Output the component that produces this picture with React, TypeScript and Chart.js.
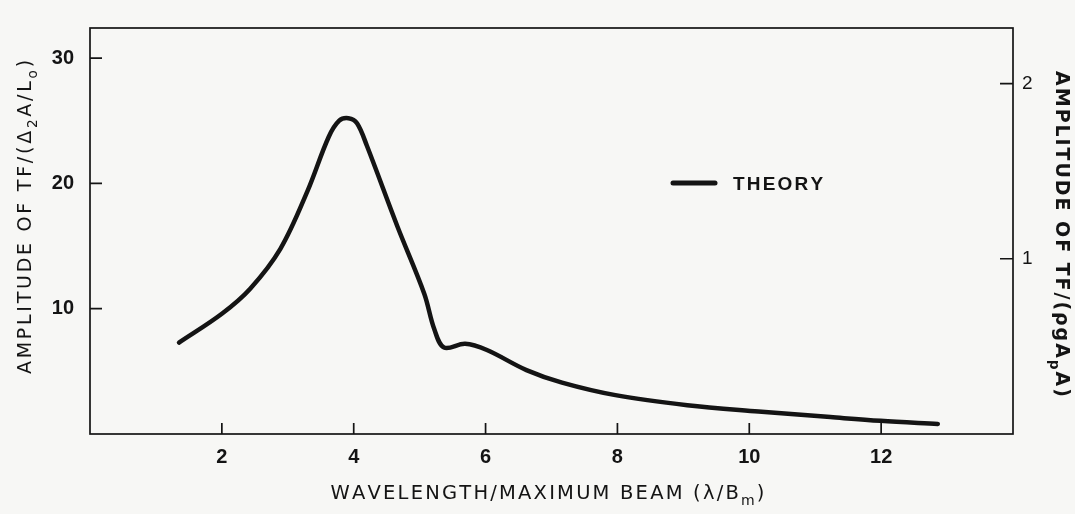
import React, { useEffect, useRef } from "react";
import { Chart, registerables } from "chart.js";

Chart.register(...registerables);

// ---- data ----
const wavelength = [
  1.35, 2.0, 2.43, 2.89, 3.3, 3.62, 3.78, 3.92, 4.05, 4.2, 4.66, 5.07, 5.22,
  5.37, 5.69, 6.02, 6.62, 7.16, 7.97, 9.06, 10.14, 11.23, 11.99, 12.86,
];
const amplitude = [
  7.3, 9.6, 11.6, 14.8, 19.4, 23.7, 25.0, 25.2, 24.8, 23.0, 16.6, 11.2, 8.4,
  6.9, 7.2, 6.7, 5.1, 4.1, 3.1, 2.3, 1.8, 1.35, 1.05, 0.8,
];
const xTicks = [2, 4, 6, 8, 10, 12];
const leftTicks = [10, 20, 30];
const rightTicks = [1, 2];
const xRange = [0, 14];
const leftRange = [0, 32.4];
const rightRange = [0, 2.317];
const seriesLabel = "THEORY";
type Seg = [string, boolean];
const xTitle: Seg[] = [
  ["WAVELENGTH/MAXIMUM BEAM (λ/B", false],
  ["m", true],
  [")", false],
];
const leftTitle: Seg[] = [
  ["AMPLITUDE OF TF/(Δ", false],
  ["2", true],
  ["A/L", false],
  ["o", true],
  [")", false],
];
const rightTitle: Seg[] = [
  ["AMPLITUDE OF TF/(ρgA", false],
  ["p", true],
  ["A)", false],
];

const INK = "#141414";
const BG = "#f7f7f5";

function segWidth(
  ctx: CanvasRenderingContext2D,
  segs: Seg[],
  size: number,
  weight: string,
  family: string,
  spacing: number
) {
  let w = 0;
  for (const [t, sub] of segs) {
    ctx.font = `${weight} ${sub ? size * 0.72 : size}px ${family}`;
    for (const ch of t) w += ctx.measureText(ch).width + spacing;
  }
  return w - spacing;
}

function drawSegs(
  ctx: CanvasRenderingContext2D,
  segs: Seg[],
  cx: number,
  baseline: number,
  size: number,
  weight: string,
  family: string,
  spacing: number
) {
  const total = segWidth(ctx, segs, size, weight, family, spacing);
  let x = cx - total / 2;
  ctx.textAlign = "left";
  ctx.textBaseline = "alphabetic";
  for (const [t, sub] of segs) {
    ctx.font = `${weight} ${sub ? size * 0.72 : size}px ${family}`;
    const y = sub ? baseline + size * 0.32 : baseline;
    for (const ch of t) {
      ctx.fillText(ch, x, y);
      x += ctx.measureText(ch).width + spacing;
    }
  }
}

const decorPlugin = {
  id: "decor",
  beforeDraw(chart: any) {
    const ctx = chart.ctx;
    ctx.save();
    ctx.fillStyle = BG;
    ctx.fillRect(0, 0, chart.width, chart.height);
    ctx.restore();
  },
  afterDraw(chart: any) {
    const ctx: CanvasRenderingContext2D = chart.ctx;
    const a = chart.chartArea;
    const sx = chart.scales.x;
    const sy = chart.scales.y;
    const sy2 = chart.scales.y2;
    ctx.save();
    ctx.strokeStyle = INK;
    ctx.lineWidth = 1.7;
    ctx.strokeRect(a.left, a.top, a.right - a.left, a.bottom - a.top);
    ctx.beginPath();
    for (const v of xTicks) {
      const p = sx.getPixelForValue(v);
      ctx.moveTo(p, a.bottom);
      ctx.lineTo(p, a.bottom - 11);
    }
    for (const v of leftTicks) {
      const p = sy.getPixelForValue(v);
      ctx.moveTo(a.left, p);
      ctx.lineTo(a.left + 12, p);
    }
    for (const v of rightTicks) {
      const p = sy2.getPixelForValue(v);
      ctx.moveTo(a.right, p);
      ctx.lineTo(a.right - 13, p);
    }
    ctx.stroke();

    // legend
    ctx.fillStyle = INK;
    ctx.lineWidth = 5;
    ctx.lineCap = "round";
    ctx.beginPath();
    ctx.moveTo(673, 183);
    ctx.lineTo(715, 183);
    ctx.stroke();
    ctx.font = "bold 19px 'Liberation Sans'";
    let lx = 733;
    for (const ch of seriesLabel) {
      ctx.fillText(ch, lx, 190);
      lx += ctx.measureText(ch).width + 2.2;
    }

    // titles
    drawSegs(ctx, xTitle, (a.left + a.right) / 2 - 4, 499, 19.5, "normal", "'DejaVu Sans'", 2.2);

    ctx.save();
    ctx.translate(31, 217);
    ctx.rotate(-Math.PI / 2);
    drawSegs(ctx, leftTitle, 0, 0, 19, "normal", "'DejaVu Sans'", 2.75);
    ctx.restore();

    ctx.save();
    ctx.translate(1056, 234);
    ctx.rotate(Math.PI / 2);
    drawSegs(ctx, rightTitle, 0, 0, 19, "bold", "'DejaVu Sans'", 1.95);
    ctx.restore();

    ctx.restore();
  },
};

export default function App() {
  const ref = useRef<HTMLCanvasElement | null>(null);
  useEffect(() => {
    document.body.style.margin = "0";
    const canvas = ref.current!;
    const tickFont = { family: "'Liberation Sans'", size: 20, weight: "bold" as const };
    const chart = new Chart(canvas, {
      type: "line",
      data: {
        datasets: [
          {
            label: seriesLabel,
            data: wavelength.map((x, i) => ({ x, y: amplitude[i] })),
            borderColor: INK,
            borderWidth: 4.5,
            pointRadius: 0,
            tension: 0.35,
            borderCapStyle: "round",
            borderJoinStyle: "round",
            fill: false,
            yAxisID: "y",
          },
        ],
      },
      options: {
        responsive: false,
        animation: false,
        layout: { padding: { top: 10, left: 0, right: 0, bottom: 0 } },
        plugins: { legend: { display: false }, tooltip: { enabled: false } },
        scales: {
          x: {
            type: "linear",
            min: xRange[0],
            max: xRange[1],
            afterBuildTicks: (s: any) => {
              s.ticks = xTicks.map((v) => ({ value: v }));
            },
            afterFit: (s: any) => {
              s.height = 80;
            },
            ticks: { font: tickFont, color: INK, padding: 11, maxRotation: 0, autoSkip: false },
            grid: { display: false, drawTicks: false },
            border: { display: false },
          },
          y: {
            type: "linear",
            position: "left",
            min: leftRange[0],
            max: leftRange[1],
            afterBuildTicks: (s: any) => {
              s.ticks = leftTicks.map((v) => ({ value: v }));
            },
            afterFit: (s: any) => {
              s.width = 90;
            },
            ticks: { font: tickFont, color: INK, padding: 16, autoSkip: false },
            grid: { display: false, drawTicks: false },
            border: { display: false },
          },
          y2: {
            type: "linear",
            position: "right",
            display: true,
            min: rightRange[0],
            max: rightRange[1],
            afterBuildTicks: (s: any) => {
              s.ticks = rightTicks.map((v) => ({ value: v }));
            },
            afterFit: (s: any) => {
              s.width = 62;
            },
            ticks: {
              font: { family: "'Liberation Sans'", size: 19 },
              color: INK,
              padding: 9,
              autoSkip: false,
            },
            grid: { display: false, drawTicks: false },
            border: { display: false },
          },
        },
      },
      plugins: [decorPlugin],
    });
    return () => chart.destroy();
  }, []);
  return (
    <div style={{ width: 1075, height: 514 }}>
      <canvas ref={ref} width={1075} height={514} style={{ display: "block" }} />
    </div>
  );
}
